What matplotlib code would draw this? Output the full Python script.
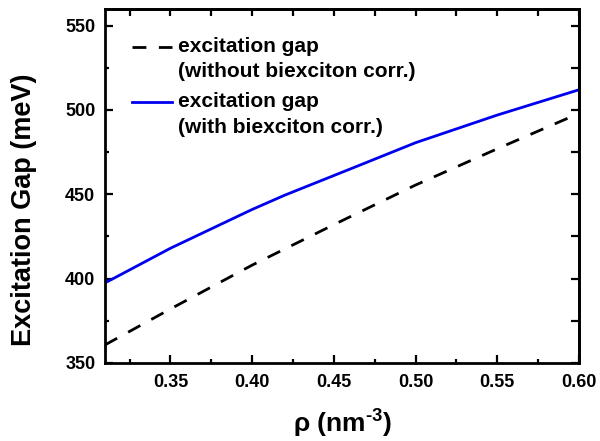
import matplotlib
matplotlib.use("Agg")
import numpy as np
import matplotlib.pyplot as plt
from matplotlib.ticker import MultipleLocator, NullFormatter, FormatStrFormatter
from matplotlib.legend_handler import HandlerLine2D

plt.rcParams['font.family'] = ['Liberation Sans', 'DejaVu Sans']
plt.rcParams['font.weight'] = 'bold'
plt.rcParams['mathtext.fontset'] = 'custom'
plt.rcParams['mathtext.rm'] = 'Liberation Sans'
plt.rcParams['mathtext.it'] = 'Liberation Sans:italic'
plt.rcParams['mathtext.bf'] = 'Liberation Sans:bold'
plt.rcParams['mathtext.default'] = 'regular'

# data
rho_without = [0.31, 0.35, 0.40, 0.45, 0.50, 0.55, 0.60]
gap_without = [360.7, 382, 408, 432, 455.5, 477, 498]
rho_with = [0.31, 0.315, 0.35, 0.40, 0.42, 0.46, 0.50, 0.55, 0.60]
gap_with = [397.5, 400, 418, 441, 449.5, 465, 480.6, 497, 512]
label_without = "excitation gap\n(without biexciton corr.)"
label_with = "excitation gap\n(with biexciton corr.)"


class FirstLineHandler(HandlerLine2D):
    """Place the legend line next to the first line of a two-line label."""
    def __init__(self, dy, **kw):
        super().__init__(**kw)
        self.dy = dy

    def create_artists(self, legend, orig_handle, xdescent, ydescent, width,
                       height, fontsize, trans):
        arts = super().create_artists(legend, orig_handle, xdescent, ydescent,
                                      width, height, fontsize, trans)
        for a in arts:
            a.set_ydata(np.asarray(a.get_ydata(), dtype=float) + self.dy)
        return arts


fig = plt.figure(figsize=(6, 4.41), dpi=100)
ax = fig.add_axes([0.175, 0.177, 0.79, 0.803])

l1, = ax.plot(rho_without, gap_without, color='black', lw=2.0, ls=(0, (5, 4.5)),
              label=label_without)
l2, = ax.plot(rho_with, gap_with, color='#0000ee', lw=2.0, label=label_with)

ax.set_xlim(0.31, 0.60)
ax.set_ylim(350, 560)
ax.xaxis.set_major_locator(MultipleLocator(0.05))
ax.xaxis.set_minor_locator(MultipleLocator(0.025))
ax.yaxis.set_major_locator(MultipleLocator(50))
ax.yaxis.set_minor_locator(MultipleLocator(25))
ax.xaxis.set_major_formatter(FormatStrFormatter('%.2f'))

for s in ax.spines.values():
    s.set_linewidth(2.0)
ax.tick_params(which='major', direction='in', length=6, width=1.6,
               labelsize=13)
ax.tick_params(axis='x', which='major', pad=8)
ax.tick_params(axis='y', which='major', pad=7)
ax.tick_params(which='minor', direction='in', length=3, width=1.6)

# top and right ticks, all the same length
secx = ax.secondary_xaxis('top')
secx.xaxis.set_major_locator(MultipleLocator(0.05))
secx.xaxis.set_minor_locator(MultipleLocator(0.025))
secx.xaxis.set_major_formatter(NullFormatter())
secx.tick_params(which='both', direction='in', length=5, width=1.6)
secy = ax.secondary_yaxis('right')
secy.yaxis.set_major_locator(MultipleLocator(25))
secy.yaxis.set_major_formatter(NullFormatter())
secy.tick_params(which='both', direction='in', length=6, width=1.6)
for sa in (secx, secy):
    for s in sa.spines.values():
        s.set_linewidth(2.0)

ax.set_xlabel('$\\mathrm{\\rho}$ (nm$^{\u2010 3}$)', fontsize=19,
              fontweight='bold', labelpad=12)
ax.set_ylabel('Excitation Gap (meV)', fontsize=19.5, fontweight='bold',
              labelpad=20)
ax.yaxis.label.set_y(0.432)

leg = ax.legend(handles=[l1, l2], loc='upper left', frameon=False, fontsize=15,
                handlelength=1.9, handletextpad=0.3, labelspacing=0.5,
                bbox_to_anchor=(0.04, 0.945), borderaxespad=0.0,
                handler_map={l1: FirstLineHandler(9.0),
                             l2: FirstLineHandler(9.0)})
for t in leg.get_texts():
    t.set_linespacing(1.45)

fig.savefig('out.png', dpi=100)
